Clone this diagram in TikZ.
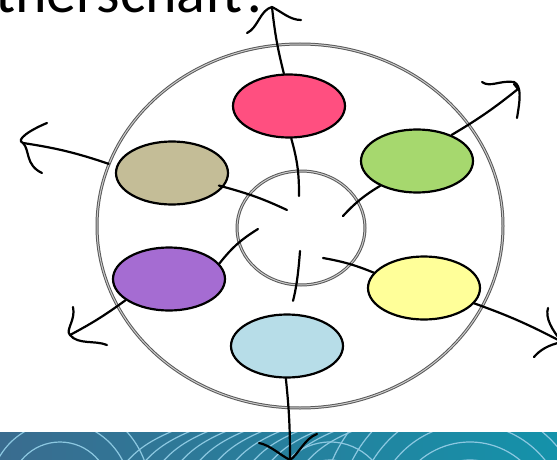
\documentclass[tikz,border=0pt]{standalone}
\usepackage{fontspec}
\setmainfont{Carlito}
\usetikzlibrary{shapes.geometric}

\definecolor{pinkfill}{RGB}{255,79,128}
\definecolor{greenfill}{RGB}{166,216,110}
\definecolor{tanfill}{RGB}{196,189,151}
\definecolor{purplefill}{RGB}{165,108,210}
\definecolor{yellowfill}{RGB}{255,255,153}
\definecolor{bluefill}{RGB}{183,221,232}
\definecolor{bandleft}{RGB}{58,108,143}
\definecolor{bandright}{RGB}{20,146,170}
\definecolor{wavecol}{RGB}{140,200,225}

\tikzset{
  blob/.style={ellipse, draw=black, line width=2.2pt, minimum width=112pt, minimum height=63pt, inner sep=0pt},
  ring/.style={ellipse, draw=black!65, double=gray!40, double distance=1pt, line width=1pt, inner sep=0pt},
  ink/.style={line width=2.2pt, line cap=round, line join=round},
  wave/.style={wavecol, line width=1.2pt}
}

\begin{document}
\begin{tikzpicture}[x=1pt,y=-1pt]
    \useasboundingbox (0,0) rectangle (557,460);
    \clip (0,0) rectangle (557,460);

    % title, cut off at the top
    \node[anchor=base west, inner sep=0pt, font=\fontsize{60}{66}\selectfont] (title) at (-5,13) {therschaft?};

    % teal band
    \fill[left color=bandleft, right color=bandright] (0,432) rectangle (557,460);
    \begin{scope}
        \clip (0,432) rectangle (557,460);
        \foreach \r in {30,50,70,90} \draw[wave] (60,492) circle[radius=\r];
        \foreach \x in {120,138,...,300} \draw[wave] (\x,470) .. controls (\x+15,450) and (\x+30,440) .. (\x+60,428);
        \foreach \r in {60,78,96,114,132,150} \draw[wave] (470,520) circle[radius=\r];
        \foreach \r in {40,58} \draw[wave] (330,500) circle[radius=\r];
    \end{scope}

    % rings
    \node[ring, minimum width=406pt, minimum height=364pt] (outer) at (300,226) {};
    \node[ring, minimum width=128pt, minimum height=114pt] (hub) at (301,228) {};

    % ellipses
    \node[blob, fill=pinkfill] (pink) at (289,106) {};
    \node[blob, fill=greenfill] (green) at (417,161) {};
    \node[blob, fill=tanfill] (tan) at (172,173) {};
    \node[blob, fill=purplefill] (purple) at (169,279) {};
    \node[blob, fill=yellowfill] (yellow) at (424,288) {};
    \node[blob, fill=bluefill] (blue) at (287,346) {};

    % inner ends
    \coordinate (hubpink) at (299,196);
    \coordinate (hubtan) at (287,210);
    \coordinate (hubgreen) at (343,216);
    \coordinate (hubpurple) at (258,229);
    \coordinate (hubblue) at (300,251);
    \coordinate (hubyellow) at (323,258);

    \draw[ink] (pink.-86) to[bend left=8] (hubpink);
    \draw[ink, shorten <=-5pt] (tan.-15) to[bend left=5] (hubtan);
    \draw[ink] (green.-146) to[bend right=8] (hubgreen);
    \draw[ink] (purple.17) to[bend left=10] (hubpurple);
    \draw[ink, shorten >=13pt] (hubblue) to[bend left=5] (blue.85);
    \draw[ink] (hubyellow) to[bend left=6] (yellow.163);

    % arrow tips
    \coordinate (tipup) at (272,7);
    \coordinate (tipleft) at (23,143);
    \coordinate (tipne) at (518,89);
    \coordinate (tipse) at (562,342);
    \coordinate (tipsw) at (70,335);
    \coordinate (tipdown) at (290,460);

    % outward arrows
    \draw[ink] (pink.99) to[bend left=4] (tipup);
    \draw[ink] (247,33) .. controls (258,28) and (260,10) .. (tipup) .. controls (282,12) and (290,20) .. (301,20);

    \draw[ink] (outer.162) to[bend right=5] (tipleft);
    \draw[ink] (47,123) .. controls (30,130) and (15,140) .. (tipleft) .. controls (30,150) and (25,165) .. (42,173);

    \draw[ink] (green.37) to[bend right=4] (tipne);
    \draw[ink] (482,82) .. controls (490,88) and (500,80) .. (514,82) .. controls (522,86) and (520,100) .. (517,118);
    \draw[ink] (tipne) -- (514,84);

    \draw[ink] (yellow.-17) to[bend left=4] (tipse);
    \draw[ink] (548,308) .. controls (545,318) and (552,330) .. (tipse);
    \draw[ink] (534,357) .. controls (540,350) and (548,345) .. (tipse);

    \draw[ink] (purple.-154) to[bend left=4] (tipsw);
    \draw[ink] (73,307) .. controls (76,320) and (65,330) .. (tipsw) .. controls (78,345) and (95,340) .. (107,345);

    \draw[ink] (blue.-92) to[bend left=3] (tipdown);
    \draw[ink] (259,443) .. controls (270,445) and (280,455) .. (tipdown) .. controls (298,455) and (305,438) .. (317,434);
\end{tikzpicture}
\end{document}
